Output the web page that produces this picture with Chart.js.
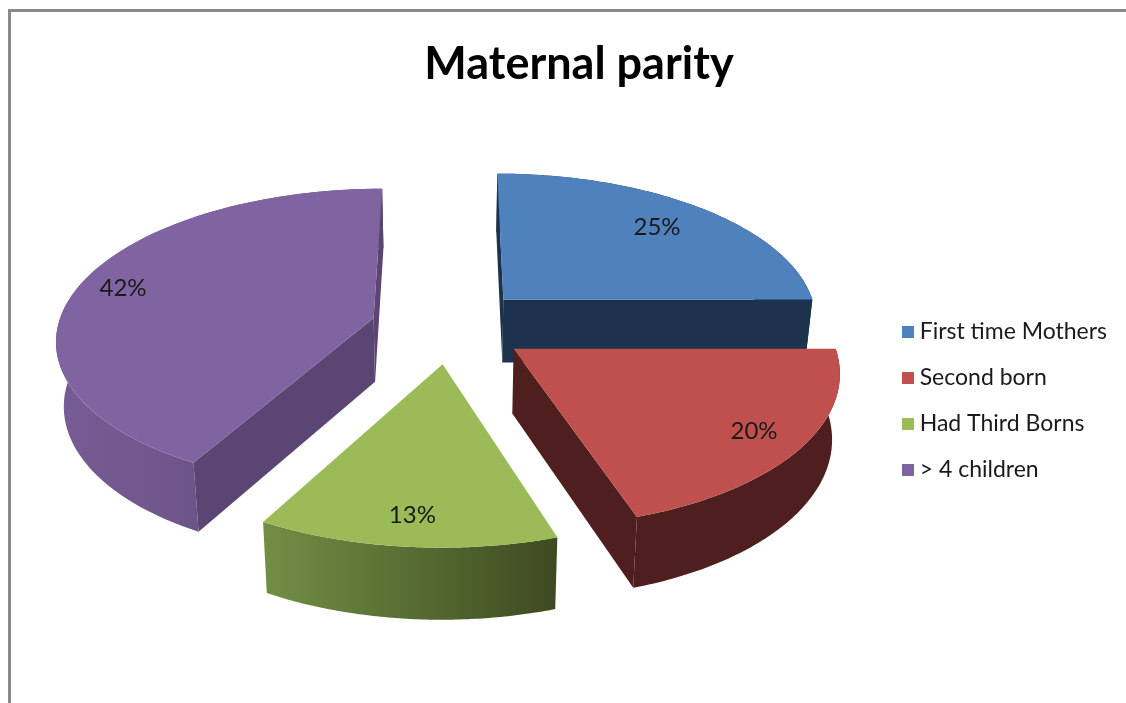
<!DOCTYPE html>
<html>
<head>
<meta charset="utf-8">
<title>Maternal parity</title>
<script src="https://cdn.jsdelivr.net/npm/chart.js@4"></script>
<style>
  html, body { margin: 0; padding: 0; background: #fff; overflow: hidden; }
  #wrap { position: relative; width: 1126px; height: 703px; overflow: hidden; }
  #frame { position: absolute; left: 8px; top: 9px; width: 1300px; height: 900px; border: 3px solid #8a8a8a; }
  canvas { position: absolute; left: 0; top: 0; }
</style>
</head>
<body>
<div id="wrap">
  <div id="frame"></div>
  <canvas id="pieChart" width="1126" height="703"></canvas>
</div>
<script>
// data
const categories = ["First time Mothers", "Second born", "Had Third Borns", "> 4 children"];
const percents = [25, 20, 13, 42];

// looks
const topColors = ["#4f81bd", "#c0504d", "#9bbb59", "#8064a2"];
const cutColors = ["#1d324c", "#4e1f1e", "#3e4c22", "#5b4572"];
const wallLeft = ["#1f3550", "#4e1f1e", "#728f45", "#775c95"];
const wallRight = ["#1d324c", "#4e1f1e", "#3d4a20", "#604a76"];
const drawOrder = [0, 3, 1, 2];
const labelRadius = [0.77, 0.845, 0.845, 0.855];
const sliceNudgeX = [0, 0, 0, -2.5];
const sliceNudgeY = [3.5, 6, 6, 6];

const FONT = "Lato, Carlito, sans-serif";

// fake 3D: the flat pie is laid on a plane and viewed in perspective
const PIE_SHIFT_X = -12.5;
const PIE_SHIFT_Y = -81;
const TILT = 0.47;
const VIEW_DIST = 2400;
const DEPTH = 64;
const DEPTH_SHRINK = 0.98;

function project(c, X, Y, low, nudge) {
  const s = VIEW_DIST / (VIEW_DIST - Y);
  let x = X * s;
  let y = TILT * Y * s;
  if (low) {
    x *= DEPTH_SHRINK;
    y = y * DEPTH_SHRINK + DEPTH * s;
  }
  return { x: c.x + x, y: c.y + y + nudge };
}

function tracePoly(ctx, pts) {
  ctx.beginPath();
  pts.forEach((p, i) => (i ? ctx.lineTo(p.x, p.y) : ctx.moveTo(p.x, p.y)));
  ctx.closePath();
}

function polyArea(pts) {
  let a = 0;
  pts.forEach((p, i) => {
    const q = pts[(i + 1) % pts.length];
    a += p.x * q.y - q.x * p.y;
  });
  return a / 2;
}

// legend square as an image, so the text can sit closer than Chart.js would put it
function legendSquare(color) {
  const c = document.createElement("canvas");
  c.width = 12;
  c.height = 12;
  const g = c.getContext("2d");
  g.fillStyle = color;
  g.fillRect(0, 0, 12, 12);
  return c;
}

const pie3d = {
  id: "pie3d",
  beforeDatasetsDraw(chart) {
    const ctx = chart.ctx;
    const arcs = chart.getDatasetMeta(0).data;
    drawOrder.forEach(i => {
      const el = arcs[i];
      const { startAngle, endAngle, outerRadius: R } = el;
      const c = { x: el.x + PIE_SHIFT_X + sliceNudgeX[i], y: el.y + PIE_SHIFT_Y };
      const mid = (startAngle + endAngle) / 2;
      const ox = Math.cos(mid) * el.options.offset;
      const oy = Math.sin(mid) * el.options.offset;
      const nudge = sliceNudgeY[i];

      const rimTop = [];
      const rimLow = [];
      const steps = 80;
      for (let k = 0; k <= steps; k++) {
        const a = startAngle + (endAngle - startAngle) * k / steps;
        const X = ox + Math.cos(a) * R;
        const Y = oy + Math.sin(a) * R;
        rimTop.push(project(c, X, Y, false, nudge));
        rimLow.push(project(c, X, Y, true, nudge));
      }
      const apexTop = project(c, ox, oy, false, nudge);
      const apexLow = project(c, ox, oy, true, nudge);

      // outer wall
      const wall = rimTop.concat(rimLow.slice().reverse());
      const xs = wall.map(p => p.x);
      const grad = ctx.createLinearGradient(Math.min(...xs), 0, Math.max(...xs), 0);
      grad.addColorStop(0, wallLeft[i]);
      grad.addColorStop(1, wallRight[i]);
      tracePoly(ctx, wall);
      ctx.fillStyle = grad;
      ctx.fill();

      // cut faces, only where they face the viewer
      const cutA = [apexTop, rimTop[0], rimLow[0], apexLow];
      const cutB = [rimTop[steps], apexTop, apexLow, rimLow[steps]];
      [cutA, cutB].forEach(q => {
        if (polyArea(q) < 0) {
          tracePoly(ctx, q);
          ctx.fillStyle = cutColors[i];
          ctx.fill();
        }
      });

      // top face
      tracePoly(ctx, [apexTop].concat(rimTop));
      ctx.fillStyle = el.options.backgroundColor;
      ctx.fill();

      // percent label
      const lr = R * labelRadius[i];
      const lp = project(c, ox + Math.cos(mid) * lr, oy + Math.sin(mid) * lr, false, nudge);
      ctx.fillStyle = "#1a1a1a";
      ctx.font = "24px " + FONT;
      ctx.textAlign = "center";
      ctx.textBaseline = "middle";
      ctx.fillText(percents[i] + "%", lp.x, lp.y);
    });
    return false; // skip the flat pie
  }
};

new Chart(document.getElementById("pieChart").getContext("2d"), {
  type: "pie",
  data: {
    labels: categories,
    datasets: [{
      data: percents,
      backgroundColor: topColors,
      borderWidth: 0,
      offset: 77,
      radius: 316
    }]
  },
  plugins: [pie3d],
  options: {
    responsive: false,
    animation: false,
    layout: { padding: { left: 41, top: 37, right: 9, bottom: -62 } },
    plugins: {
      tooltip: { enabled: false },
      title: {
        display: true,
        text: "Maternal parity",
        color: "#000",
        font: { family: FONT, size: 45, weight: "bold" },
        padding: { top: 0, bottom: 10 }
      },
      legend: {
        position: "right",
        labels: {
          color: "#1a1a1a",
          usePointStyle: true,
          pointStyleWidth: 1,
          boxHeight: 12,
          padding: 23,
          font: { family: FONT, size: 23 },
          generateLabels(chart) {
            const items = Chart.overrides.pie.plugins.legend.labels.generateLabels(chart);
            items.forEach((item, i) => { item.pointStyle = legendSquare(topColors[i]); });
            return items;
          }
        }
      }
    }
  }
});
</script>
</body>
</html>
